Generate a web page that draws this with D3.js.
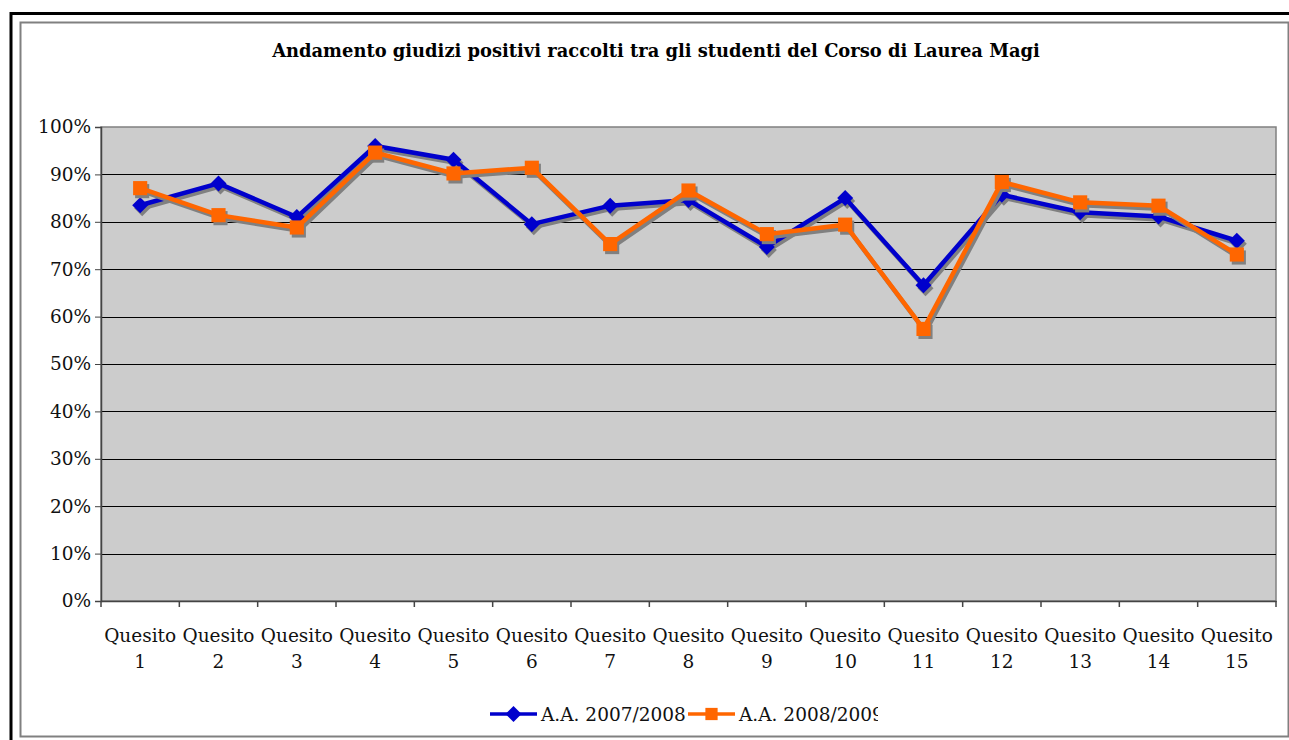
<!DOCTYPE html>
<html>
<head>
<meta charset="utf-8">
<script src="https://cdn.jsdelivr.net/npm/d3@7"></script>
<style>
  body { margin: 0; background: #fff; }
  svg { display: block; }
  svg text { font-family: "DejaVu Serif", "Liberation Serif", serif; }
</style>
</head>
<body>
<svg id="chart" width="1289" height="740"></svg>
<script>
// dati
const categories = ['1', '2', '3', '4', '5', '6', '7', '8', '9', '10', '11', '12', '13', '14', '15'];
const aa0708 = [83.5, 88.1, 81.0, 96.0, 93.1, 79.5, 83.4, 84.6, 74.7, 85.0, 66.6, 85.7, 82.0, 81.1, 76.0];
const aa0809 = [87.1, 81.4, 78.8, 94.6, 90.2, 91.4, 75.3, 86.6, 77.4, 79.4, 57.4, 88.4, 84.1, 83.4, 73.1];
const yTicks = [0, 10, 20, 30, 40, 50, 60, 70, 80, 90, 100];
const seriesNames = ['A.A. 2007/2008', 'A.A. 2008/2009'];

const FONT = '"DejaVu Serif", "Liberation Serif", serif';
const svg = d3.select('#chart');
const W = 1289, H = 740;
const plot = { left: 101, right: 1276, top: 127, bottom: 601 };

// cornici esterne
svg.append('line').attr('x1', 11).attr('y1', 13.5).attr('x2', W).attr('y2', 13.5)
  .attr('stroke', '#000').attr('stroke-width', 3);
svg.append('line').attr('x1', 11).attr('y1', 12).attr('x2', 11).attr('y2', H)
  .attr('stroke', '#000').attr('stroke-width', 3);
svg.append('rect').attr('x', 20.5).attr('y', 22.5).attr('width', W - 21).attr('height', 714)
  .attr('fill', 'none').attr('stroke', '#808080').attr('stroke-width', 2);

// titolo, adattato alla larghezza dell'originale
const title = svg.append('text')
  .attr('x', 656).attr('y', 57)
  .attr('text-anchor', 'middle')
  .attr('font-family', FONT)
  .attr('font-size', 16).attr('font-weight', 'bold')
  .text('Andamento giudizi positivi raccolti tra gli studenti del Corso di Laurea Magi');
const tw = title.node().getComputedTextLength();
if (tw > 0) title.attr('font-size', 16 * 768 / tw);

const x = d3.scaleBand().domain(categories).range([plot.left, plot.right]);
const y = d3.scaleLinear().domain([0, 100]).range([plot.bottom, plot.top]);

svg.append('rect')
  .attr('x', plot.left).attr('y', plot.top)
  .attr('width', plot.right - plot.left).attr('height', plot.bottom - plot.top)
  .attr('fill', '#cccccc').attr('stroke', '#808080').attr('stroke-width', 1.5);

// griglia
svg.append('g').selectAll('line')
  .data(yTicks.filter(d => d > 0 && d < 100))
  .join('line')
  .attr('x1', plot.left).attr('x2', plot.right)
  .attr('y1', d => Math.round(y(d)) + 0.5).attr('y2', d => Math.round(y(d)) + 0.5)
  .attr('stroke', '#000').attr('stroke-width', 1);

// asse y
const yAxis = svg.append('g')
  .attr('transform', `translate(${plot.left},0)`)
  .call(d3.axisLeft(y).tickValues(yTicks).tickFormat(d => d + '%').tickSize(6).tickPadding(4));
yAxis.select('.domain').attr('stroke', '#444').attr('stroke-width', 1.5);
yAxis.selectAll('.tick line').attr('stroke', '#444');
yAxis.selectAll('text').attr('font-size', 18.5).attr('fill', '#111')
  .attr('font-family', FONT);

// asse x
const xAxis = svg.append('g')
  .attr('transform', `translate(0,${plot.bottom})`)
  .call(d3.axisBottom(x).tickSize(0).tickFormat(''));
xAxis.select('.domain').attr('stroke', '#444').attr('stroke-width', 1.5);
const bounds = [plot.left].concat(categories.map(c => x(c) + x.bandwidth()));
svg.append('g').selectAll('line')
  .data(bounds)
  .join('line')
  .attr('x1', d => d).attr('x2', d => d)
  .attr('y1', plot.bottom).attr('y2', plot.bottom + 6)
  .attr('stroke', '#444').attr('stroke-width', 1.5);

const xl = svg.append('g').selectAll('text')
  .data(categories)
  .join('text')
  .attr('x', d => x(d) + x.bandwidth() / 2)
  .attr('text-anchor', 'middle')
  .attr('font-family', FONT)
  .attr('font-size', 18.5).attr('fill', '#111');
xl.append('tspan').attr('x', d => x(d) + x.bandwidth() / 2).attr('y', 642).text('Quesito');
xl.append('tspan').attr('x', d => x(d) + x.bandwidth() / 2).attr('y', 668).text(d => d);

// serie
const cx = i => x(categories[i]) + x.bandwidth() / 2;
const line = d3.line().x((d, i) => cx(i)).y(d => y(d));
// rombo "quadrato" come nei grafici di Excel
const rhombus = {
  draw(ctx, size) {
    const r = Math.sqrt(size / 2);
    ctx.moveTo(0, -r); ctx.lineTo(r, 0); ctx.lineTo(0, r); ctx.lineTo(-r, 0); ctx.closePath();
  }
};
const diamond = d3.symbol().type(rhombus).size(128);
const square = d3.symbol().type(d3.symbolSquare).size(200);

function drawSeries(vals, color, sym, dx, dy, shadow) {
  const g = svg.append('g').attr('transform', `translate(${dx},${dy})`);
  g.append('path').datum(vals)
    .attr('d', line).attr('fill', 'none')
    .attr('stroke', shadow ? '#808080' : color).attr('stroke-width', 4.5)
    .attr('stroke-linejoin', 'miter');
  g.selectAll('path.m').data(vals).join('path')
    .attr('class', 'm')
    .attr('transform', (d, i) => `translate(${cx(i)},${y(d)})`)
    .attr('d', sym)
    .attr('fill', shadow ? '#808080' : color);
}

drawSeries(aa0708, '#0000cc', diamond, 2, 3, true);
drawSeries(aa0708, '#0000cc', diamond, 0, 0, false);
drawSeries(aa0809, '#ff6600', square, 2, 3, true);
drawSeries(aa0809, '#ff6600', square, 0, 0, false);

// legenda (il testo della seconda voce è tagliato come nell'originale)
svg.append('clipPath').attr('id', 'legclip')
  .append('rect').attr('x', 0).attr('y', 690).attr('width', 878).attr('height', 40);
const leg = svg.append('g').attr('clip-path', 'url(#legclip)');
const legItems = [
  { name: seriesNames[0], color: '#0000cc', sym: diamond, x0: 490 },
  { name: seriesNames[1], color: '#ff6600', sym: d3.symbol().type(d3.symbolSquare).size(150), x0: 688 }
];
legItems.forEach(it => {
  leg.append('line').attr('x1', it.x0).attr('x2', it.x0 + 47)
    .attr('y1', 714).attr('y2', 714)
    .attr('stroke', it.color).attr('stroke-width', 3.5);
  leg.append('path').attr('transform', `translate(${it.x0 + 23.5},714)`)
    .attr('d', it.sym).attr('fill', it.color);
  leg.append('text').attr('x', it.x0 + 51).attr('y', 721)
    .attr('font-family', FONT)
    .attr('font-size', 18.5).attr('fill', '#111').text(it.name);
});
</script>
</body>
</html>
